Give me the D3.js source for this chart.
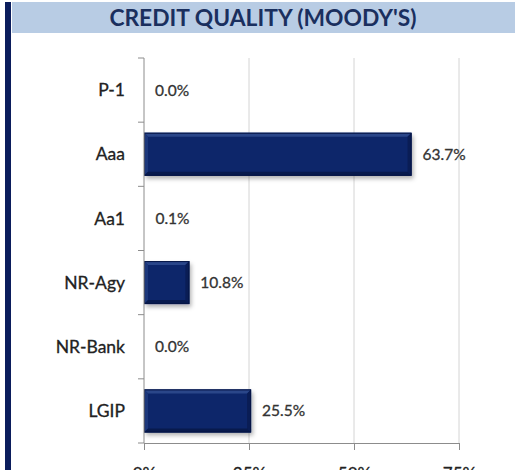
<!DOCTYPE html>
<html>
<head>
<meta charset="utf-8">
<script src="https://cdn.jsdelivr.net/npm/d3@7"></script>
<style>
  html, body { margin: 0; padding: 0; background: #fff; }
  svg { display: block; }
</style>
</head>
<body>
<svg id="chart" width="519" height="470"></svg>
<script>
var categories = ["P-1", "Aaa", "Aa1", "NR-Agy", "NR-Bank", "LGIP"];
var values = [0.0, 63.7, 0.1, 10.8, 0.0, 25.5];
var tickValues = [0, 25, 50, 75];
var title = "CREDIT QUALITY (MOODY'S)";

var svg = d3.select("#chart"),
  font = "Lato, 'Open Sans', sans-serif";

var margin = { top: 58, left: 144, bottom: 27 },
  height = 470 - margin.top - margin.bottom;

var x = d3.scaleLinear().domain([0, 75]).range([margin.left, 459]);
var y = d3.scaleBand()
  .domain(categories)
  .range([margin.top, margin.top + height])
  .paddingInner(0.33)
  .paddingOuter(0.165);

// frame: left stripe and title band
svg.append("rect")
  .attr("x", 5).attr("y", 2).attr("width", 6).attr("height", 468)
  .attr("fill", "#0b1d5c");

svg.append("rect")
  .attr("x", 12).attr("y", 2).attr("width", 503).attr("height", 31)
  .attr("fill", "#b8cce4");

svg.append("text")
  .attr("x", 263).attr("y", 25.5)
  .attr("text-anchor", "middle")
  .attr("font-family", font)
  .attr("font-weight", "bold")
  .attr("font-size", 22.8)
  .attr("fill", "#1a2f5e")
  .text(title);

var defs = svg.append("defs");

var shadow = defs.append("filter")
  .attr("id", "shadow")
  .attr("x", "-10%").attr("y", "-20%")
  .attr("width", "130%").attr("height", "160%");
shadow.append("feDropShadow")
  .attr("dx", 2).attr("dy", 3)
  .attr("stdDeviation", 2)
  .attr("flood-color", "#000")
  .attr("flood-opacity", 0.3);

// gridlines
svg.append("g")
  .selectAll("line")
  .data(tickValues.slice(1))
  .enter().append("line")
    .attr("x1", function(d) { return x(d); })
    .attr("x2", function(d) { return x(d); })
    .attr("y1", margin.top)
    .attr("y2", margin.top + height)
    .attr("stroke", "#d4d4d4")
    .attr("stroke-width", 1);

// bars
var bev = 4;
var bars = svg.append("g")
  .selectAll("g")
  .data(categories.map(function(c, i) { return { cat: c, value: values[i] }; })
    .filter(function(d) { return x(d.value) - x(0) > 2 * bev; }))
  .enter().append("g");

bars.append("rect")
  .attr("x", x(0))
  .attr("y", function(d) { return y(d.cat); })
  .attr("width", function(d) { return x(d.value) - x(0); })
  .attr("height", y.bandwidth())
  .attr("fill", "#0f276a")
  .attr("filter", "url(#shadow)");

function bevel(d, side) {
  var x0 = x(0), x1 = x(d.value), y0 = y(d.cat), y1 = y0 + y.bandwidth();
  var pts = {
    top: [[x0, y0], [x1, y0], [x1 - bev, y0 + bev], [x0 + bev, y0 + bev]],
    left: [[x0, y0], [x0 + bev, y0 + bev], [x0 + bev, y1 - bev], [x0, y1]],
    right: [[x1, y0], [x1, y1], [x1 - bev, y1 - bev], [x1 - bev, y0 + bev]],
    bottom: [[x0, y1], [x0 + bev, y1 - bev], [x1 - bev, y1 - bev], [x1, y1]]
  }[side];
  return "M" + pts.join("L") + "Z";
}

var bevelColors = { top: "#2a4689", left: "#1c377b", right: "#0a1d55", bottom: "#081a4d" };
Object.keys(bevelColors).forEach(function(side) {
  bars.append("path")
    .attr("d", function(d) { return bevel(d, side); })
    .attr("fill", bevelColors[side]);
});

bars.append("rect")
  .attr("x", x(0) + 0.5)
  .attr("y", function(d) { return y(d.cat) + 0.5; })
  .attr("width", function(d) { return x(d.value) - x(0) - 1; })
  .attr("height", y.bandwidth() - 1)
  .attr("fill", "none")
  .attr("stroke", "#061545")
  .attr("stroke-width", 1);

// value labels
svg.append("g")
  .selectAll("text")
  .data(values)
  .enter().append("text")
    .attr("x", function(d) { return x(d) + 11; })
    .attr("y", function(d, i) { return y(categories[i]) + y.bandwidth() / 2; })
    .attr("dy", "0.35em")
    .attr("font-family", font)
    .attr("font-size", 15.5)
    .attr("fill", "#333")
    .attr("stroke", "#333")
    .attr("stroke-width", 0.3)
    .text(function(d) { return d.toFixed(1) + "%"; });

// y axis
var yAxis = svg.append("g")
  .attr("transform", "translate(" + margin.left + ",0)");

yAxis.append("line")
  .attr("x1", 0).attr("x2", 0)
  .attr("y1", margin.top).attr("y2", margin.top + height)
  .attr("stroke", "#8c8c8c");

yAxis.selectAll("line.tick")
  .data(d3.range(categories.length + 1))
  .enter().append("line")
    .attr("class", "tick")
    .attr("x1", -6).attr("x2", 0)
    .attr("y1", function(i) { return margin.top + i * y.step(); })
    .attr("y2", function(i) { return margin.top + i * y.step(); })
    .attr("stroke", "#8c8c8c");

yAxis.selectAll("text")
  .data(categories)
  .enter().append("text")
    .attr("x", -19)
    .attr("y", function(d) { return y(d) + y.bandwidth() / 2; })
    .attr("dy", "0.35em")
    .attr("text-anchor", "end")
    .attr("font-family", font)
    .attr("font-size", 17.5)
    .attr("fill", "#222")
    .attr("stroke", "#222")
    .attr("stroke-width", 0.3)
    .text(function(d) { return d; });

// x axis
var xAxis = svg.append("g")
  .attr("transform", "translate(0," + (margin.top + height) + ")")
  .call(d3.axisBottom(x)
    .tickValues(tickValues)
    .tickSize(7)
    .tickSizeOuter(0)
    .tickPadding(18)
    .tickFormat(function(d) { return d + "%"; }));

xAxis.select(".domain").attr("stroke", "#8c8c8c");
xAxis.selectAll(".tick line").attr("stroke", "#8c8c8c");
xAxis.selectAll(".tick text")
  .attr("font-family", font)
  .attr("font-size", 17)
  .attr("fill", "#222")
  .attr("stroke", "#222")
  .attr("stroke-width", 0.3);
</script>
</body>
</html>
